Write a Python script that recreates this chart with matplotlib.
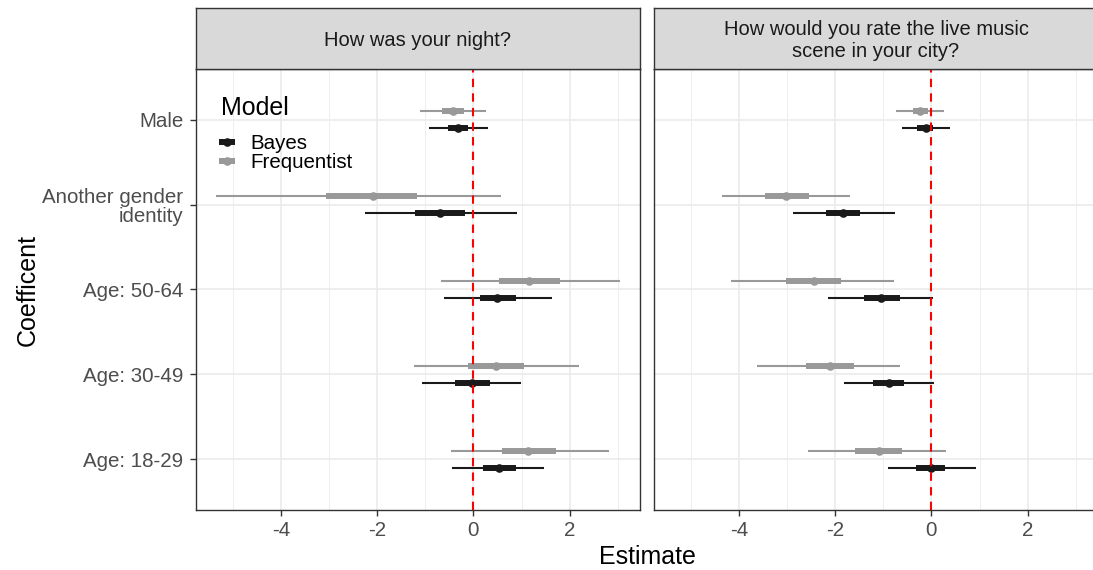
import matplotlib
matplotlib.use("Agg")
import matplotlib.pyplot as plt
from matplotlib.lines import Line2D

plt.rcParams['font.family'] = ['Liberation Sans', 'DejaVu Sans']
plt.rcParams['axes.unicode_minus'] = False

# coefficient labels, top to bottom
coefs = ["Male", "Another gender\nidentity", "Age: 50-64", "Age: 30-49", "Age: 18-29"]
panels = ["How was your night?", "How would you rate the live music\nscene in your city?"]

# panel 1: How was your night?
night_bayes_est = [-0.32, -0.69, 0.50, -0.02, 0.53]
night_bayes_lo90 = [-0.53, -1.21, 0.13, -0.39, 0.21]
night_bayes_hi90 = [-0.12, -0.17, 0.89, 0.35, 0.88]
night_bayes_lo95 = [-0.93, -2.26, -0.62, -1.06, -0.45]
night_bayes_hi95 = [0.30, 0.91, 1.63, 0.98, 1.47]

night_freq_est = [-0.43, -2.09, 1.16, 0.47, 1.14]
night_freq_lo90 = [-0.66, -3.06, 0.53, -0.12, 0.60]
night_freq_hi90 = [-0.20, -1.17, 1.79, 1.05, 1.71]
night_freq_lo95 = [-1.11, -5.34, -0.68, -1.24, -0.47]
night_freq_hi95 = [0.26, 0.58, 3.04, 2.20, 2.82]

# panel 2: live music scene
music_bayes_est = [-0.12, -1.83, -1.04, -0.89, -0.01]
music_bayes_lo90 = [-0.29, -2.19, -1.40, -1.21, -0.32]
music_bayes_hi90 = [0.04, -1.48, -0.66, -0.57, 0.29]
music_bayes_lo95 = [-0.60, -2.88, -2.14, -1.82, -0.90]
music_bayes_hi95 = [0.38, -0.75, 0.03, 0.05, 0.93]

music_freq_est = [-0.23, -3.01, -2.44, -2.10, -1.09]
music_freq_lo90 = [-0.39, -3.45, -3.01, -2.61, -1.58]
music_freq_hi90 = [-0.06, -2.55, -1.87, -1.60, -0.61]
music_freq_lo95 = [-0.74, -4.34, -4.16, -3.63, -2.57]
music_freq_hi95 = [0.27, -1.69, -0.78, -0.65, 0.31]

BAYES_COL = "#1a1a1a"
FREQ_COL = "#999999"
GRID = "#ebebeb"
EDGE = "#333333"

W, H = 1093, 570
fig = plt.figure(figsize=(W / 100, H / 100), dpi=100)


def px_box(x0, y0, x1, y1):
    return [x0 / W, 1 - y1 / H, (x1 - x0) / W, (y1 - y0) / H]


def draw_range(ax, ypos, est, lo90, hi90, lo95, hi95, col):
    ax.hlines(ypos, lo95, hi95, color=col, lw=1.5, zorder=3)
    for y, a, b in zip(ypos, lo90, hi90):
        ax.plot([a, b], [y, y], color=col, lw=4.3, solid_capstyle='butt', zorder=4)
    ax.plot(est, ypos, 'o', color=col, ms=6.2, mec='none', zorder=5)


data = [
    (night_bayes_est, night_bayes_lo90, night_bayes_hi90, night_bayes_lo95, night_bayes_hi95,
     night_freq_est, night_freq_lo90, night_freq_hi90, night_freq_lo95, night_freq_hi95),
    (music_bayes_est, music_bayes_lo90, music_bayes_hi90, music_bayes_lo95, music_bayes_hi95,
     music_freq_est, music_freq_lo90, music_freq_hi90, music_freq_lo95, music_freq_hi95),
]

yc = [5, 4, 3, 2, 1]
lefts = [196, 654]
axes = []
for i, (title, d) in enumerate(zip(panels, data)):
    x0 = lefts[i]
    ax = fig.add_axes(px_box(x0, 69, x0 + 444, 510))
    strip = fig.add_axes(px_box(x0, 8, x0 + 444, 69))
    strip.set_facecolor("#d9d9d9")
    strip.set_xticks([])
    strip.set_yticks([])
    for s in strip.spines.values():
        s.set_color(EDGE)
        s.set_linewidth(1.0)
    strip.text(0.5, 0.46, title, ha='center', va='center', fontsize=14.5,
               color="#1a1a1a", linespacing=1.2, transform=strip.transAxes)

    ax.set_xlim(-5.76, 3.46)
    ax.set_ylim(0.4, 5.6)
    ax.set_xticks([-4, -2, 0, 2])
    ax.set_xticks([-5, -3, -1, 1, 3], minor=True)
    ax.set_yticks(yc)
    ax.grid(which='major', color=GRID, lw=1.2, zorder=0)
    ax.grid(which='minor', axis='x', color=GRID, lw=0.6, zorder=0)
    ax.set_axisbelow(True)
    for s in ax.spines.values():
        s.set_color(EDGE)
        s.set_linewidth(1.0)
    ax.tick_params(axis='x', which='major', length=4, width=1.0, color=EDGE,
                   labelsize=14.8, labelcolor="#4d4d4d", pad=4)
    ax.tick_params(axis='x', which='minor', length=0)
    if i == 0:
        ax.set_yticklabels(coefs, fontsize=14.8, color="#4d4d4d", multialignment='right',
                           linespacing=1.0)
        ax.tick_params(axis='y', length=4, width=1.0, color=EDGE, pad=5)
    else:
        ax.tick_params(axis='y', length=0, labelleft=False)

    yb = [y - 0.1 for y in yc]
    yf = [y + 0.1 for y in yc]
    draw_range(ax, yf, *d[5:], FREQ_COL)
    draw_range(ax, yb, *d[:5], BAYES_COL)
    ax.axvline(0, color='red', lw=1.5, ls=(0, (4, 3)), zorder=6)
    axes.append(ax)

# legend, drawn inside the first panel
axes[0].text(221 / W, 1 - 108 / H, "Model", transform=fig.transFigure, ha='left', va='center',
             fontsize=18, zorder=7)
handles = [
    Line2D([0], [0], color=BAYES_COL, lw=4.3, marker='o', ms=6.2, mec='none', solid_capstyle='butt'),
    Line2D([0], [0], color=FREQ_COL, lw=4.3, marker='o', ms=6.2, mec='none', solid_capstyle='butt'),
]
leg = axes[0].legend(handles, ["Bayes", "Frequentist"], loc='upper left',
                     bbox_to_anchor=(219 / W, 1 - 134 / H), bbox_transform=fig.transFigure,
                     frameon=False, fontsize=14.8, handlelength=0.8, handletextpad=0.75,
                     labelspacing=0.0, borderpad=0, borderaxespad=0)

fig.text(28 / W, 1 - 289.5 / H, "Coefficent", rotation=90, ha='center', va='center', fontsize=18)
fig.text(647 / W, 1 - 557 / H, "Estimate", ha='center', va='center', fontsize=18)

fig.savefig("out.png", dpi=100)
